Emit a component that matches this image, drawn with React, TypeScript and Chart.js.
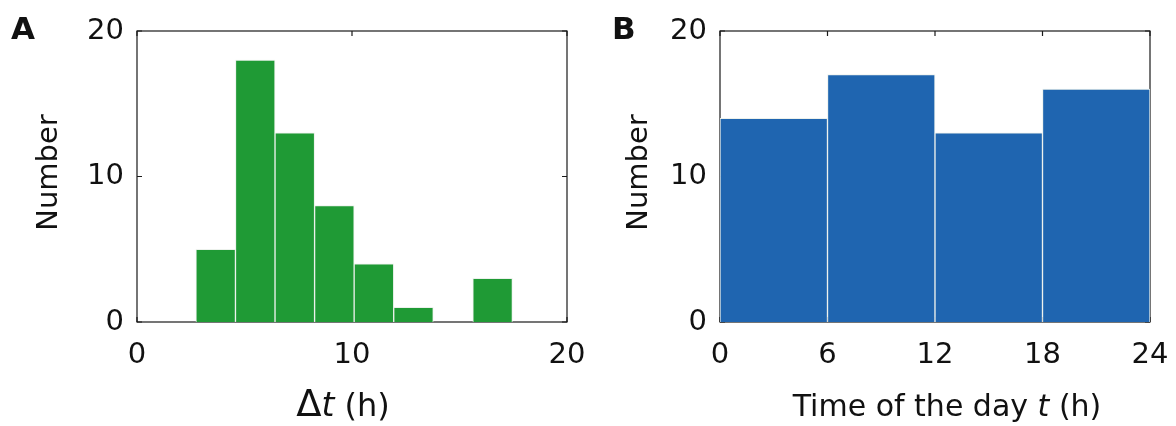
import React, { useEffect, useRef } from "react";
import { Chart, registerables } from "chart.js";

Chart.register(...registerables);

// ---- Data ----
const binCentersA = [3.66, 5.5, 7.34, 9.18, 11.02, 12.86, 14.7, 16.54];
const countsA = [5, 18, 13, 8, 4, 1, 0, 3];
const xTicksA = [0, 10, 20];

const binCentersB = [3, 9, 15, 21];
const countsB = [14, 17, 13, 16];
const xTicksB = [0, 6, 12, 18, 24];

const yTicks = [0, 10, 20];

const FONT = "'DejaVu Sans', sans-serif";
const TEXT = "#111";

type Run = { text: string; font: string };

function drawRuns(ctx: CanvasRenderingContext2D, runs: Run[], cx: number, baseline: number) {
  let total = 0;
  const widths = runs.map((r) => {
    ctx.font = r.font;
    const w = ctx.measureText(r.text).width;
    total += w;
    return w;
  });
  let x = cx - total / 2;
  ctx.textAlign = "left";
  ctx.textBaseline = "alphabetic";
  runs.forEach((r, i) => {
    ctx.font = r.font;
    ctx.fillText(r.text, x, baseline);
    x += widths[i];
  });
}

function makeFramePlugin(xTicks: number[]) {
  return {
    id: "frame",
    beforeDatasetsDraw(chart: any) {
      const { ctx, chartArea } = chart;
      const { left, right, top, bottom } = chartArea;
      const xs = chart.scales.x;
      const ys = chart.scales.y;
      ctx.save();
      ctx.strokeStyle = "#1a1a1a";
      ctx.lineWidth = 1.2;
      ctx.strokeRect(left, top, right - left, bottom - top);
      const tl = 5;
      ctx.beginPath();
      xTicks.forEach((v) => {
        const px = xs.getPixelForValue(v);
        ctx.moveTo(px, bottom);
        ctx.lineTo(px, bottom - tl);
        ctx.moveTo(px, top);
        ctx.lineTo(px, top + tl);
      });
      yTicks.forEach((v) => {
        const py = ys.getPixelForValue(v);
        ctx.moveTo(left, py);
        ctx.lineTo(left + tl, py);
        ctx.moveTo(right, py);
        ctx.lineTo(right - tl, py);
      });
      ctx.stroke();
      ctx.restore();
    },
  };
}

function makeTextPlugin(letter: string, letterX: number, numberX: number, xTitleRuns: Run[], xTitleCx: number) {
  return {
    id: "texts",
    afterDraw(chart: any) {
      const { ctx, chartArea } = chart;
      ctx.save();
      ctx.fillStyle = TEXT;
      // panel letter
      ctx.font = `bold 31px ${FONT}`;
      ctx.textAlign = "left";
      ctx.textBaseline = "alphabetic";
      ctx.fillText(letter, letterX, 39);
      // y title
      ctx.save();
      ctx.translate(numberX, (chartArea.top + chartArea.bottom) / 2 - 4);
      ctx.rotate(-Math.PI / 2);
      ctx.font = `29px ${FONT}`;
      ctx.textAlign = "center";
      ctx.textBaseline = "middle";
      ctx.fillText("Number", 0, 0);
      ctx.restore();
      // x title
      drawRuns(ctx, xTitleRuns, xTitleCx, 416);
      ctx.restore();
    },
  };
}

function buildConfig(
  centers: number[],
  counts: number[],
  xTicks: number[],
  xMax: number,
  color: string,
  yAxisWidth: number,
  rightPad: number,
  plugins: any[]
) {
  return {
    type: "bar" as const,
    data: {
      datasets: [
        {
          data: centers.map((c, i) => ({ x: c, y: counts[i] })),
          backgroundColor: color,
          borderColor: "rgba(235,240,235,0.95)",
          borderWidth: 1,
          borderSkipped: "start",
          barPercentage: 1,
          categoryPercentage: 1,
        },
      ],
    },
    options: {
      animation: false,
      responsive: false,
      layout: { padding: { top: 31, right: rightPad, left: 0, bottom: 0 } },
      plugins: { legend: { display: false }, tooltip: { enabled: false } },
      scales: {
        x: {
          type: "linear",
          min: 0,
          max: xMax,
          offset: false,
          afterBuildTicks: (s: any) => {
            s.ticks = xTicks.map((v) => ({ value: v }));
          },
          afterFit: (s: any) => {
            s.height = 104;
            s.paddingLeft = 0;
            s.paddingRight = 0;
          },
          grid: { display: false, drawTicks: false },
          border: { display: false },
          ticks: {
            font: { family: FONT, size: 29 },
            color: TEXT,
            padding: 16,
            maxRotation: 0,
          },
        },
        y: {
          min: 0,
          max: 20,
          afterBuildTicks: (s: any) => {
            s.ticks = yTicks.map((v) => ({ value: v }));
          },
          afterFit: (s: any) => {
            s.width = yAxisWidth;
            s.paddingTop = 0;
            s.paddingBottom = 0;
          },
          grid: { display: false, drawTicks: false },
          border: { display: false },
          ticks: {
            font: { family: FONT, size: 29 },
            color: TEXT,
            padding: 13,
          },
        },
      },
    },
    plugins,
  };
}

export default function App() {
  const refA = useRef<HTMLCanvasElement>(null);
  const refB = useRef<HTMLCanvasElement>(null);

  useEffect(() => {
    const chartA = new Chart(
      refA.current as HTMLCanvasElement,
      buildConfig(binCentersA, countsA, xTicksA, 20, "#1f9a35", 137, 21, [
        makeFramePlugin(xTicksA),
        makeTextPlugin(
          "A",
          11,
          49,
          [
            { text: "Δ", font: `37px ${FONT}` },
            { text: "t", font: `italic 33px ${FONT}` },
            { text: " (h)", font: `32px ${FONT}` },
          ],
          343
        ),
      ]) as any
    );
    const chartB = new Chart(
      refB.current as HTMLCanvasElement,
      buildConfig(binCentersB, countsB, xTicksB, 24, "#1f65b0", 132, 26, [
        makeFramePlugin(xTicksB),
        makeTextPlugin(
          "B",
          24,
          51,
          [
            { text: "Time of the day ", font: `30px ${FONT}` },
            { text: "t", font: `italic 30px ${FONT}` },
            { text: " (h)", font: `30px ${FONT}` },
          ],
          359
        ),
      ]) as any
    );
    return () => {
      chartA.destroy();
      chartB.destroy();
    };
  }, []);

  return (
    <div style={{ position: "absolute", left: 0, top: 0, width: 1176, height: 426, background: "#fff" }}>
      <canvas ref={refA} width={588} height={426} style={{ position: "absolute", left: 0, top: 0 }} />
      <canvas ref={refB} width={588} height={426} style={{ position: "absolute", left: 588, top: 0 }} />
    </div>
  );
}
